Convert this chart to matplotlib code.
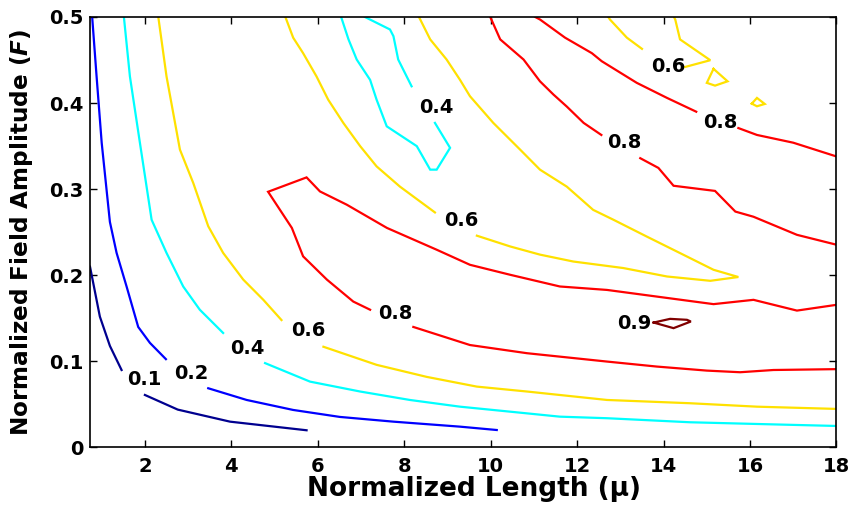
import numpy as np
import matplotlib
matplotlib.use("Agg")
import matplotlib.pyplot as plt
from matplotlib.ticker import FuncFormatter

nan = np.nan

# contour lines, nan = gap where the label sits
lvl_01_x = [0.73, 0.958, 1.19, 1.46, nan, 2.0, 2.76, 3.97, 5.74]
lvl_01_y = [0.21, 0.152, 0.118, 0.090, nan, 0.061, 0.044, 0.030, 0.020]

lvl_02_x = [0.78, 0.882, 1.0, 1.19, 1.345, 1.576, 1.845, 2.116, 2.486, nan,
            3.465, 4.354, 5.43, 6.51, 7.75, 9.29, 10.14]
lvl_02_y = [0.5, 0.431, 0.354, 0.262, 0.226, 0.187, 0.140, 0.1215, 0.1026, nan,
            0.0688, 0.0552, 0.0436, 0.0355, 0.030, 0.0242, 0.0203]

lvl_04a_x = [1.514, 1.653, 1.884, 2.155, 2.50, 2.886, 3.27, 3.81, nan, 4.78,
             5.82, 6.98, 8.13, 9.29, 10.45, 11.6, 12.69, 14.61, 16.16, 18.0]
lvl_04a_y = [0.5, 0.431, 0.354, 0.2645, 0.226, 0.187, 0.160, 0.133, nan, 0.098,
             0.0765, 0.065, 0.0552, 0.0474, 0.0416, 0.0358, 0.034, 0.0293, 0.0273, 0.025]

lvl_04b_x = [6.54, 6.71, 6.90, 7.21, 7.36, 7.595, 8.29, 8.60, 8.75, 9.06, 8.71, nan,
             8.17, 7.86, 7.75, 7.67, 7.09]
lvl_04b_y = [0.5, 0.474, 0.4506, 0.427, 0.404, 0.373, 0.350, 0.3227, 0.3227, 0.348, 0.377, nan,
             0.4195, 0.4506, 0.4777, 0.4855, 0.5]

lvl_06a_x = [2.31, 2.50, 2.81, 3.12, 3.465, 3.81, 4.275, 4.74, 5.16, nan,
             6.13, 7.36, 8.52, 9.68, 10.84, 12.69, 14.61, 16.16, 18.0]
lvl_06a_y = [0.5, 0.431, 0.346, 0.307, 0.257, 0.226, 0.195, 0.1715, 0.148, nan,
             0.117, 0.096, 0.082, 0.0707, 0.065, 0.0552, 0.0514, 0.0474, 0.0448]

lvl_06b_x = [5.25, 5.43, 5.66, 5.97, 6.24, 6.59, 6.98, 7.36, 7.90, 8.71, nan,
             9.68, 10.45, 11.14, 11.91, 13.07, 14.08, 15.08, 15.73, 15.155, 14.38,
             13.61, 12.84, 12.37, 11.76, 11.14, 10.68, 10.06, 9.52, 9.29, 8.98,
             8.60, 8.37, 8.34]
lvl_06b_y = [0.5, 0.476, 0.458, 0.431, 0.404, 0.377, 0.350, 0.3265, 0.303, 0.273, nan,
             0.246, 0.2335, 0.224, 0.216, 0.2084, 0.1986, 0.1936, 0.198, 0.2064, 0.2258,
             0.245, 0.2645, 0.276, 0.303, 0.3227, 0.346, 0.377, 0.408, 0.427, 0.4506,
             0.474, 0.4971, 0.5]

lvl_06c_x = [12.72, 12.76, 13.15, 13.5, nan, 14.5, 15.08, 14.38, 14.27, 14.24]
lvl_06c_y = [0.5, 0.497, 0.476, 0.463, nan, 0.442, 0.4498, 0.474, 0.497, 0.5]

lvl_06d_x = [15.155, 15.0, 15.19, 15.48, 15.155]
lvl_06d_y = [0.4398, 0.4235, 0.4203, 0.4253, 0.4398]

lvl_06e_x = [16.04, 16.16, 16.34, 16.16, 16.04]
lvl_06e_y = [0.3994, 0.406, 0.399, 0.3963, 0.3994]

lvl_08a_x = [18.0, 16.54, 15.77, 15.0, 13.84, 12.69, 10.84, 9.52, 8.21, nan,
             7.21, 6.82, 6.21, 5.66, 5.40, 4.85, 5.74, 6.05, 6.67, 7.60, 8.75,
             9.52, 10.45, 11.6, 12.69, 13.84, 15.155, 16.08, 17.085, 18.0]
lvl_08a_y = [0.091, 0.090, 0.0874, 0.0893, 0.094, 0.0998, 0.1095, 0.119, 0.140, nan,
             0.160, 0.1695, 0.195, 0.222, 0.255, 0.297, 0.3137, 0.2974, 0.282, 0.255, 0.2297,
             0.2122, 0.2006, 0.187, 0.183, 0.1753, 0.1665, 0.1715, 0.159, 0.1657]

lvl_08b_x = [9.99, 10.22, 10.76, 11.14, 11.45, 11.76, 12.15, 12.56, nan,
             13.46, 13.88, 14.23, 15.19, 15.66, 16.08, 17.085, 18.0]
lvl_08b_y = [0.5, 0.474, 0.4506, 0.4253, 0.41, 0.396, 0.377, 0.363, nan,
             0.336, 0.3247, 0.304, 0.298, 0.274, 0.268, 0.247, 0.2355]

lvl_08c_x = [11.03, 11.14, 11.72, 12.34, 12.57, 13.38, 14.08, 14.755, nan,
             15.73, 16.16, 17.0, 18.0]
lvl_08c_y = [0.5, 0.4971, 0.476, 0.458, 0.4486, 0.4235, 0.406, 0.390, nan,
             0.371, 0.363, 0.354, 0.338]

lvl_09_x = [13.77, 14.15, 14.54, 14.63, 14.23, 13.77]
lvl_09_y = [0.1451, 0.1494, 0.1483, 0.1463, 0.1386, 0.1451]

label_text = ["0.1", "0.2", "0.4", "0.6", "0.8", "0.6", "0.4", "0.8", "0.8", "0.6", "0.9"]
label_x = [1.98, 3.065, 4.37, 5.77, 7.79, 9.31, 8.74, 13.1, 15.31, 14.1, 13.33]
label_y = [0.0785, 0.0855, 0.1153, 0.1355, 0.1552, 0.2637, 0.3944, 0.3537, 0.377, 0.4428, 0.1436]

colors = {
    0.1: "#00008f",
    0.2: "#0000ff",
    0.4: "#00ffff",
    0.6: "#ffe100",
    0.8: "#ff0000",
    0.9: "#800000",
}

lines = [
    (0.1, lvl_01_x, lvl_01_y),
    (0.2, lvl_02_x, lvl_02_y),
    (0.4, lvl_04a_x, lvl_04a_y),
    (0.4, lvl_04b_x, lvl_04b_y),
    (0.6, lvl_06a_x, lvl_06a_y),
    (0.6, lvl_06b_x, lvl_06b_y),
    (0.6, lvl_06c_x, lvl_06c_y),
    (0.6, lvl_06d_x, lvl_06d_y),
    (0.6, lvl_06e_x, lvl_06e_y),
    (0.8, lvl_08a_x, lvl_08a_y),
    (0.8, lvl_08b_x, lvl_08b_y),
    (0.8, lvl_08c_x, lvl_08c_y),
    (0.9, lvl_09_x, lvl_09_y),
]

plt.rcParams['font.family'] = ['DejaVu Sans']
plt.rcParams['font.weight'] = 'bold'
plt.rcParams['mathtext.fontset'] = 'custom'
plt.rcParams['mathtext.it'] = 'DejaVu Sans:italic:bold'
plt.rcParams['mathtext.rm'] = 'DejaVu Sans:bold'

fig = plt.figure(figsize=(8.54, 5.12), dpi=100)
ax = fig.add_axes([0.1054, 0.126, 0.8741, 0.8408])

for lvl, xs, ys in lines:
    ax.plot(xs, ys, color=colors[lvl], lw=1.6, solid_joinstyle='miter')

for t, x, y in zip(label_text, label_x, label_y):
    ax.text(x, y, t, ha='center', va='center', fontsize=14, fontweight='bold')

ax.set_xlim(0.73, 18)
ax.set_ylim(0, 0.5)
ax.set_xticks(np.arange(2, 19, 2))
ax.set_yticks([0, 0.1, 0.2, 0.3, 0.4, 0.5])
ax.yaxis.set_major_formatter(FuncFormatter(lambda v, p: f"{v:g}"))
ax.tick_params(direction='in', top=True, right=True, length=5, width=1,
               labelsize=14, pad=5)
ax.tick_params(axis='x', pad=7)
for lab in ax.get_xticklabels() + ax.get_yticklabels():
    lab.set_fontweight('bold')
for s in ax.spines.values():
    s.set_linewidth(1.2)

ax.set_xlabel("Normalized Length (μ)", fontsize=19, fontweight='bold', labelpad=0)
ax.xaxis.label.set_x(0.515)
ax.set_ylabel("Normalized Field Amplitude ($F$)", fontsize=16.7, fontweight='bold', labelpad=10)

fig.savefig("out.png", dpi=100)
